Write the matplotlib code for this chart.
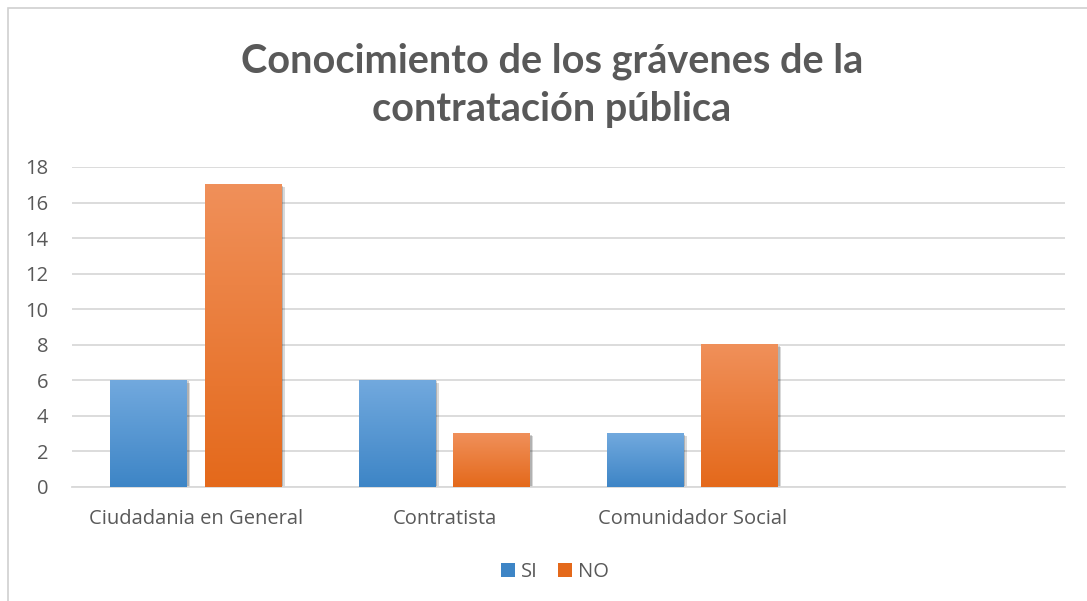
import matplotlib

matplotlib.use("Agg")
import matplotlib.pyplot as plt
import numpy as np
from matplotlib.colors import LinearSegmentedColormap
from matplotlib.patches import Patch, Rectangle
import matplotlib.patheffects as pe

categories = ["Ciudadania en General", "Contratista", "Comunidador Social", ""]
si_vals = [6, 6, 3, 0]
no_vals = [17, 3, 8, 0]
series_names = ["SI", "NO"]
y_ticks = list(range(0, 19, 2))

TEXT_C = "#595959"
GRID_C = "#d9d9d9"
BLUE_TOP, BLUE_BOT = "#72a9de", "#3d85c6"
ORANGE_TOP, ORANGE_BOT = "#f0905a", "#e4691b"

plt.rcParams["font.family"] = ["Open Sans", "DejaVu Sans"]

fig = plt.figure(figsize=(10.87, 6.01), dpi=100)
ax = fig.add_axes([72 / 1087, 1 - 487 / 601, (1065 - 72) / 1087, 320 / 601])

# chart frame (Excel chart area border)
fig.patches.append(Rectangle((8 / 1087, -0.05), 1.2, 1 - 8 / 601 + 0.05,
                             transform=fig.transFigure, fill=False,
                             edgecolor="#d0d0d0", linewidth=1.2))

x = np.arange(len(categories))
w = 0.31
off = 0.19


def gradient_bars(xs, vals, top, bot):
    bars = ax.bar(xs, vals, w, color="none", linewidth=0, zorder=3)
    cmap = LinearSegmentedColormap.from_list("g", [bot, top])
    grad = np.linspace(0, 1, 256).reshape(-1, 1)
    for b in bars:
        h = b.get_height()
        if h <= 0:
            continue
        x0 = b.get_x()
        # soft shadow
        sh = Rectangle((x0 + 0.006, 0), b.get_width(), h - 0.05, facecolor="#000000",
                       alpha=0.18, linewidth=0, zorder=2)
        sh.set_path_effects([pe.withSimplePatchShadow(offset=(1, -1), alpha=0.15)])
        ax.add_patch(sh)
        ax.imshow(grad, extent=(x0, x0 + b.get_width(), 0, h), origin="lower",
                  cmap=cmap, aspect="auto", zorder=3, interpolation="bilinear")
    return bars


gradient_bars(x - off, si_vals, BLUE_TOP, BLUE_BOT)
gradient_bars(x + off, no_vals, ORANGE_TOP, ORANGE_BOT)

ax.set_xlim(-0.5, len(categories) - 0.5)
ax.set_ylim(0, 18)
ax.set_yticks(y_ticks)
ax.yaxis.grid(True, color=GRID_C, linewidth=1.3)
ax.set_axisbelow(True)
ax.set_xticks(x)
ax.set_xticklabels(categories)
ax.tick_params(axis="both", length=0, colors=TEXT_C, labelsize=14.5)
ax.tick_params(axis="x", pad=16)
ax.tick_params(axis="y", pad=17)
for s in ["top", "right", "left"]:
    ax.spines[s].set_visible(False)
ax.spines["bottom"].set_color(GRID_C)
ax.spines["bottom"].set_linewidth(1.3)

fig.text(552 / 1087, 1 - 85 / 601, "Conocimiento de los grávenes de la\ncontratación pública",
         ha="center", va="center", fontsize=28.5, fontweight="bold", color=TEXT_C,
         linespacing=1.35, family=["Lato", "DejaVu Sans"])

handles = [Patch(facecolor=BLUE_BOT, edgecolor="none"),
           Patch(facecolor=ORANGE_BOT, edgecolor="none")]
fig.legend(handles, series_names, loc="center", bbox_to_anchor=(555 / 1087, 1 - 572 / 601),
           ncol=2, frameon=False, fontsize=14.5, handlelength=0.7, handleheight=0.7,
           handletextpad=0.3, columnspacing=1.0, labelcolor=TEXT_C)

fig.savefig("out.png", dpi=100)
